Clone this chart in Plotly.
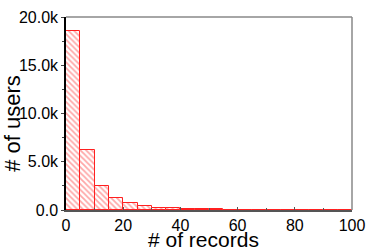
import plotly.graph_objects as go

bin_left = list(range(0, 100, 5))
counts = [18500, 6250, 2500, 1270, 700, 400, 250, 180, 110, 100, 90, 50, 40, 30, 25, 20, 15, 12, 10, 8]
y_tickvals = [0, 5000, 10000, 15000, 20000]
y_ticktext = ["0.0", "5.0k", "10.0k", "15.0k", "20.0k"]
x_tickvals = [0, 20, 40, 60, 80, 100]
x_title = "# of records"
y_title = "# of users"

fig = go.Figure()
fig.add_trace(go.Bar(
    x=[b + 2.5 for b in bin_left], y=counts, width=5,
    marker=dict(color="white",
                line=dict(color="#ff2020", width=1),
                pattern=dict(shape="\\", fgcolor="#ff5050", bgcolor="white", size=4, solidity=0.45)),
))
fig.update_layout(
    width=374, height=248, margin=dict(l=66, r=14, t=9, b=38),
    plot_bgcolor="white", paper_bgcolor="white", showlegend=False,
    font=dict(family="Liberation Sans, Arial", color="black", size=16),
    bargap=0,
    shapes=[
        dict(type="line", xref="paper", yref="paper", x0=0, x1=1, y0=1, y1=1, line=dict(color="#888", width=1.5)),
        dict(type="line", xref="paper", yref="paper", x0=1, x1=1, y0=0, y1=1, line=dict(color="#888", width=1.5)),
    ],
    annotations=[
        dict(text=x_title, xref="paper", yref="paper", x=0.48, y=-0.155, xanchor="center", yanchor="middle",
             showarrow=False, font=dict(size=21)),
        dict(text=y_title, xref="paper", yref="paper", x=-0.19, y=0.45, xanchor="center", yanchor="middle",
             textangle=-90, showarrow=False, font=dict(size=22)),
    ],
)
fig.update_xaxes(range=[0, 100], tickvals=x_tickvals, showgrid=False, zeroline=False,
                 showline=True, linecolor="#555", linewidth=1.5, ticks="inside", ticklen=3,
                 tickcolor="#555", minor=dict(ticks="inside", ticklen=2, dtick=10, tickcolor="#555"))
fig.update_yaxes(range=[0, 20000], tickvals=y_tickvals, ticktext=y_ticktext, showgrid=False, zeroline=False,
                 showline=True, linecolor="black", linewidth=1.5, ticks="outside", ticklen=3,
                 minor=dict(ticks="outside", ticklen=2, dtick=2500))
fig.write_html("out.html", config={"displayModeBar": False},
               post_script="document.body.style.margin='0';document.body.style.overflow='hidden';")
